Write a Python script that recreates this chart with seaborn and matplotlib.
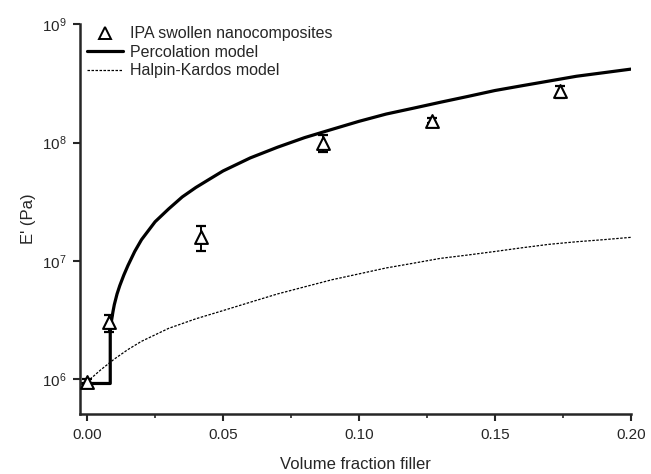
import numpy as np
import pandas as pd
import seaborn as sns
import matplotlib
matplotlib.use("Agg")
import matplotlib.pyplot as plt
from matplotlib.lines import Line2D
from matplotlib.ticker import MultipleLocator, LogLocator, NullLocator, FormatStrFormatter

# measured data (IPA swollen nanocomposites)
phi = [0.0, 0.0082, 0.042, 0.0868, 0.127, 0.174]
E_meas = [9.5e5, 3.05e6, 1.6e7, 9.9e7, 1.53e8, 2.75e8]
E_low = [9.0e5, 2.5e6, 1.2e7, 8.3e7, 1.45e8, 2.37e8]
E_high = [1.0e6, 3.5e6, 1.98e7, 1.15e8, 1.62e8, 3.0e8]

# percolation model curve
perc_x = [-0.0025, 0.0085, 0.0085, 0.009, 0.0095, 0.010, 0.011, 0.012, 0.0135,
          0.015, 0.0175, 0.020, 0.025, 0.030, 0.035, 0.040, 0.045, 0.050, 0.060,
          0.070, 0.080, 0.090, 0.100, 0.110, 0.120, 0.130, 0.140, 0.150, 0.160,
          0.170, 0.180, 0.190, 0.200]
perc_y = [9.2e5, 9.2e5, 2.51e6, 3.16e6, 3.72e6, 4.27e6, 5.25e6, 6.17e6, 7.59e6,
          9.12e6, 1.20e7, 1.51e7, 2.14e7, 2.75e7, 3.47e7, 4.17e7, 4.90e7, 5.75e7, 7.41e7,
          9.12e7, 1.10e8, 1.29e8, 1.51e8, 1.74e8, 1.95e8, 2.19e8, 2.45e8, 2.75e8, 3.02e8,
          3.31e8, 3.63e8, 3.89e8, 4.17e8]

# Halpin-Kardos model curve
hk_x = [0.0, 0.005, 0.01, 0.015, 0.02, 0.03, 0.04, 0.05, 0.06, 0.07, 0.08, 0.09,
        0.10, 0.11, 0.12, 0.13, 0.14, 0.15, 0.16, 0.17, 0.18, 0.19, 0.20]
hk_y = [9.5e5, 1.20e6, 1.48e6, 1.78e6, 2.09e6, 2.69e6, 3.24e6, 3.80e6, 4.47e6,
        5.25e6, 6.03e6, 6.92e6, 7.76e6, 8.71e6, 9.55e6, 1.05e7, 1.12e7, 1.20e7,
        1.29e7, 1.38e7, 1.45e7, 1.51e7, 1.58e7]

sns.set_style("ticks")
plt.rcParams['font.family'] = ['Liberation Sans', 'DejaVu Sans']

fig = plt.figure(figsize=(6.51, 4.74), dpi=100)
ax = fig.add_axes([0.123, 0.127, 0.846, 0.822])

perc_df = pd.DataFrame({'x': perc_x, 'y': perc_y})
hk_df = pd.DataFrame({'x': hk_x, 'y': hk_y})

sns.lineplot(data=hk_df, x='x', y='y', ax=ax, color='black', lw=0.9,
             linestyle=(0, (2, 1.2)), sort=False, estimator=None)
sns.lineplot(data=perc_df, x='x', y='y', ax=ax, color='black', lw=2.3,
             sort=False, estimator=None)

yerr = [np.array(E_meas) - np.array(E_low), np.array(E_high) - np.array(E_meas)]
ax.errorbar(phi, E_meas, yerr=yerr, fmt='none', ecolor='black', elinewidth=1.4,
            capsize=3.5, capthick=1.6, zorder=3)
sns.scatterplot(x=phi, y=E_meas, ax=ax, marker='^', s=85, facecolor='white',
                edgecolor='black', linewidth=1.5, zorder=4)

ax.set_yscale('log')
ax.set_xlim(-0.0026, 0.2)
ax.set_ylim(5.1e5, 1e9)
ax.xaxis.set_major_locator(MultipleLocator(0.05))
ax.xaxis.set_minor_locator(MultipleLocator(0.025))
ax.xaxis.set_major_formatter(FormatStrFormatter('%.2f'))
ax.yaxis.set_major_locator(LogLocator(base=10, numticks=10))
ax.yaxis.set_minor_locator(NullLocator())

ax.set_xlabel('Volume fraction filler', fontsize=12, labelpad=11)
ax.set_ylabel("E' (Pa)", fontsize=12, labelpad=4)
ax.tick_params(axis='both', which='major', direction='out', length=5, width=1.5,
               labelsize=11, pad=5)
ax.tick_params(axis='x', which='minor', direction='out', length=3, width=1.2)

for side in ['top', 'right']:
    ax.spines[side].set_visible(False)
for side in ['left', 'bottom']:
    ax.spines[side].set_linewidth(1.8)

handles = [
    Line2D([], [], marker='^', linestyle='none', markerfacecolor='white',
           markeredgecolor='black', markeredgewidth=1.4, markersize=9),
    Line2D([], [], color='black', lw=2.3),
    Line2D([], [], color='black', lw=0.9, linestyle=(0, (2, 1.2))),
]
labels = ['IPA swollen nanocomposites', 'Percolation model', 'Halpin-Kardos model']
ax.legend(handles, labels, loc='upper left', bbox_to_anchor=(0.012, 0.995),
          frameon=False, fontsize=11.5, borderpad=0, borderaxespad=0,
          handlelength=2.3, handletextpad=0.4, labelspacing=0.22)

fig.savefig('out.png', dpi=100)
